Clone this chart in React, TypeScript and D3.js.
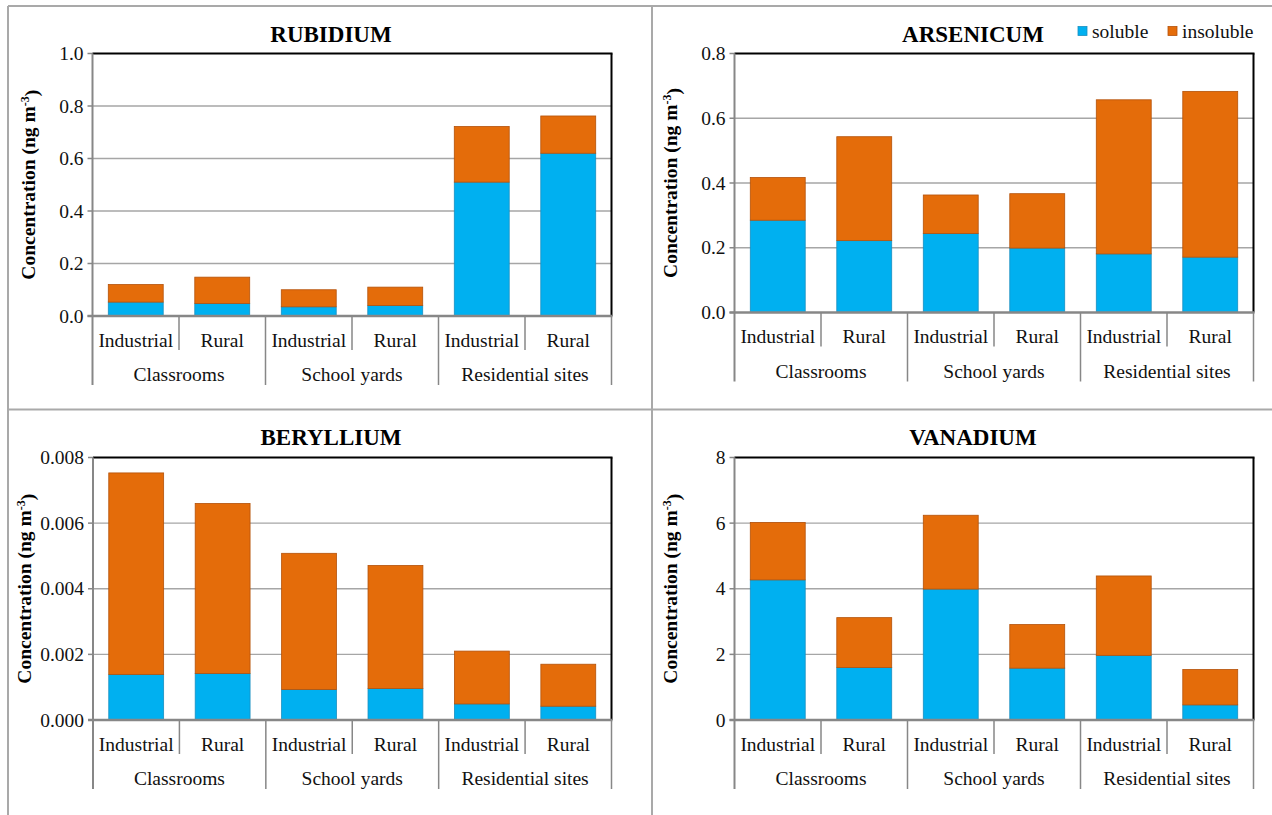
import React from "react";
import * as d3 from "d3";

// ---- data ----
const sites = ["Industrial", "Rural", "Industrial", "Rural", "Industrial", "Rural"];
const groups = ["Classrooms", "School yards", "Residential sites"];
const seriesKeys = ["soluble", "insoluble"];

const rubidiumSoluble = [0.053, 0.048, 0.035, 0.040, 0.510, 0.620];
const rubidiumInsoluble = [0.067, 0.100, 0.065, 0.070, 0.212, 0.142];

const arsenicumSoluble = [0.285, 0.222, 0.244, 0.199, 0.181, 0.171];
const arsenicumInsoluble = [0.132, 0.321, 0.119, 0.168, 0.476, 0.512];

const berylliumSoluble = [0.00139, 0.00142, 0.00093, 0.00096, 0.00049, 0.00042];
const berylliumInsoluble = [0.00614, 0.00518, 0.00415, 0.00375, 0.00161, 0.00128];

const vanadiumSoluble = [4.27, 1.60, 3.99, 1.58, 1.97, 0.46];
const vanadiumInsoluble = [1.75, 1.52, 2.25, 1.33, 2.42, 1.08];

const rubidiumTicks = [0, 0.2, 0.4, 0.6, 0.8, 1.0];
const arsenicumTicks = [0, 0.2, 0.4, 0.6, 0.8];
const berylliumTicks = [0, 0.002, 0.004, 0.006, 0.008];
const vanadiumTicks = [0, 2, 4, 6, 8];

const yTitle = "Concentration (ng m";

// ---- style ----
const FONT = "'Liberation Serif', 'Times New Roman', Times, serif";
const BLUE = "#00B0F0";
const BLUE_EDGE = "#1A8FC0";
const ORANGE = "#E46C0A";
const ORANGE_EDGE = "#B4520A";
const GRID = "#A6A6A6";
const AXIS = "#878787";
const LABEL_SIZE = 19.5;

type PanelCfg = {
  title: string;
  titleX: number;
  titleY: number;
  soluble: number[];
  insoluble: number[];
  ticks: number[];
  fmt: string;
  left: number;
  right: number;
  top: number;
  bottom: number;
  yLabelX: number;
};

function Panel({ cfg }: { cfg: PanelCfg }) {
  const { left, right, top, bottom } = cfg;
  const x = d3
    .scaleBand<number>()
    .domain(d3.range(sites.length))
    .range([left, right])
    .paddingInner(0.365)
    .paddingOuter(0.1825);
  const step = (right - left) / sites.length;
  const yMax = cfg.ticks[cfg.ticks.length - 1];
  const y = d3.scaleLinear().domain([0, yMax]).range([bottom, top]);
  const rows = sites.map((_, i) => ({ soluble: cfg.soluble[i], insoluble: cfg.insoluble[i] }));
  const stacked = d3.stack<any>().keys(seriesKeys)(rows);
  const fmt = d3.format(cfg.fmt);
  const innerLen = 34;
  const outerLen = 69;
  const yMid = (top + bottom) / 2;

  return (
    <g>
      <text
        x={cfg.titleX}
        y={cfg.titleY}
        textAnchor="middle"
        fontFamily={FONT}
        fontWeight="bold"
        fontSize={23}
        fill="#000"
      >
        {cfg.title}
      </text>
      {/* gridlines */}
      {cfg.ticks.slice(1, -1).map((t) => (
        <line key={"g" + t} x1={left} x2={right} y1={y(t)} y2={y(t)} stroke={GRID} strokeWidth={1.4} />
      ))}
      {/* bars */}
      {stacked.map((s, si) => (
        <g key={s.key}>
          {s.map((d, i) => (
            <rect
              key={i}
              x={x(i)!}
              width={x.bandwidth()}
              y={y(d[1])}
              height={y(d[0]) - y(d[1])}
              fill={si === 0 ? BLUE : ORANGE}
              stroke={si === 0 ? BLUE_EDGE : ORANGE_EDGE}
              strokeWidth={0.8}
            />
          ))}
        </g>
      ))}
      {/* y ticks and labels */}
      {cfg.ticks.map((t) => (
        <g key={"t" + t}>
          <line x1={left - 5} x2={left} y1={y(t)} y2={y(t)} stroke={AXIS} strokeWidth={1.5} />
          <text
            x={left - 9}
            y={y(t)}
            dy="0.34em"
            textAnchor="end"
            fontFamily={FONT}
            fontSize={LABEL_SIZE}
            fill="#111"
          >
            {fmt(t)}
          </text>
        </g>
      ))}
      {/* plot border */}
      <line x1={left} x2={right + 1} y1={top} y2={top} stroke="#000" strokeWidth={2} />
      <line x1={right} x2={right} y1={top} y2={bottom} stroke="#000" strokeWidth={2} />
      <line x1={left} x2={left} y1={top} y2={bottom + outerLen} stroke={AXIS} strokeWidth={2} />
      {/* category separators */}
      {d3.range(1, sites.length + 1).map((k) => (
        <line
          key={"s" + k}
          x1={left + step * k}
          x2={left + step * k}
          y1={bottom}
          y2={bottom + (k % 2 === 0 ? outerLen : innerLen)}
          stroke={AXIS}
          strokeWidth={1.5}
        />
      ))}
      <line x1={left - 5} x2={right + 1} y1={bottom} y2={bottom} stroke={AXIS} strokeWidth={2.5} />
      {/* category labels */}
      {sites.map((s, i) => (
        <text
          key={"c" + i}
          x={left + step * (i + 0.5)}
          y={bottom + 30.5}
          textAnchor="middle"
          fontFamily={FONT}
          fontSize={LABEL_SIZE}
          fill="#111"
        >
          {s}
        </text>
      ))}
      {groups.map((g, i) => (
        <text
          key={"gr" + i}
          x={left + step * (i * 2 + 1)}
          y={bottom + 65}
          textAnchor="middle"
          fontFamily={FONT}
          fontSize={LABEL_SIZE}
          fill="#111"
        >
          {g}
        </text>
      ))}
      {/* y title */}
      <text
        transform={`translate(${cfg.yLabelX},${yMid}) rotate(-90)`}
        textAnchor="middle"
        dy="0.35em"
        fontFamily={FONT}
        fontWeight="bold"
        fontSize={19.5}
        fill="#000"
      >
        {yTitle}
        <tspan dy="-0.45em" fontSize={12}>
          -3
        </tspan>
        <tspan dy="0.45em">)</tspan>
      </text>
    </g>
  );
}

const panels: PanelCfg[] = [
  {
    title: "RUBIDIUM",
    titleX: 331,
    titleY: 41.5,
    soluble: rubidiumSoluble,
    insoluble: rubidiumInsoluble,
    ticks: rubidiumTicks,
    fmt: ".1f",
    left: 92.5,
    right: 611.5,
    top: 53.5,
    bottom: 316,
    yLabelX: 28,
  },
  {
    title: "ARSENICUM",
    titleX: 973,
    titleY: 41.5,
    soluble: arsenicumSoluble,
    insoluble: arsenicumInsoluble,
    ticks: arsenicumTicks,
    fmt: ".1f",
    left: 734.5,
    right: 1253.5,
    top: 53.5,
    bottom: 312.5,
    yLabelX: 670,
  },
  {
    title: "BERYLLIUM",
    titleX: 331,
    titleY: 445,
    soluble: berylliumSoluble,
    insoluble: berylliumInsoluble,
    ticks: berylliumTicks,
    fmt: ".3f",
    left: 93,
    right: 611.5,
    top: 457.5,
    bottom: 720,
    yLabelX: 24,
  },
  {
    title: "VANADIUM",
    titleX: 973,
    titleY: 445,
    soluble: vanadiumSoluble,
    insoluble: vanadiumInsoluble,
    ticks: vanadiumTicks,
    fmt: "d",
    left: 734.5,
    right: 1253.5,
    top: 457.5,
    bottom: 720,
    yLabelX: 670,
  },
];

export default function App() {
  return (
    <svg
      width={1272}
      height={815}
      style={{ position: "absolute", left: 0, top: 0, background: "#fff" }}
    >
      <rect x={0} y={0} width={1272} height={815} fill="#fff" />
      {/* panel frames */}
      <line x1={8} x2={1272} y1={6} y2={6} stroke="#A9A9A9" strokeWidth={2} />
      <line x1={8} x2={8} y1={6} y2={815} stroke="#A9A9A9" strokeWidth={2} />
      <line x1={652} x2={652} y1={6} y2={815} stroke="#A9A9A9" strokeWidth={2} />
      <line x1={8} x2={1272} y1={409.5} y2={409.5} stroke="#A9A9A9" strokeWidth={2} />
      {panels.map((p) => (
        <Panel key={p.title} cfg={p} />
      ))}
      {/* legend */}
      <g fontFamily={FONT} fontSize={LABEL_SIZE} fill="#111">
        <rect x={1078} y={26.5} width={9} height={9} fill={BLUE} stroke={BLUE_EDGE} strokeWidth={0.8} />
        <text x={1092} y={38}>{seriesKeys[0]}</text>
        <rect x={1168} y={26.5} width={9} height={9} fill={ORANGE} stroke={ORANGE_EDGE} strokeWidth={0.8} />
        <text x={1182} y={38}>{seriesKeys[1]}</text>
      </g>
    </svg>
  );
}
